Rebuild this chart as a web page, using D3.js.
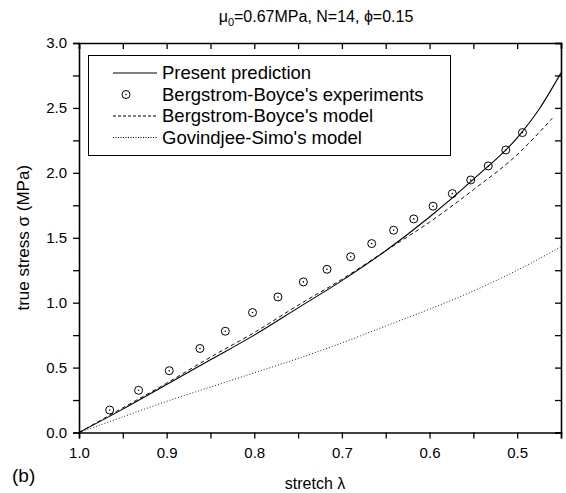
<!DOCTYPE html>
<html>
<head>
<meta charset="utf-8">
<script src="https://cdn.jsdelivr.net/npm/d3@7"></script>
<style>
  html, body { margin: 0; padding: 0; background: #fff; }
  svg { display: block; font-family: "Liberation Sans", Arial, sans-serif; }
</style>
</head>
<body>
<div id="chart"></div>
<script>
// stretch values for the experiments (circles)
const expStretch = [0.965, 0.932, 0.897, 0.862, 0.833, 0.802, 0.773, 0.744, 0.717, 0.690,
    0.666, 0.641, 0.618, 0.596, 0.574, 0.553, 0.533, 0.513, 0.494];
const expStress = [0.173, 0.325, 0.476, 0.647, 0.780, 0.924, 1.044, 1.160, 1.257, 1.354,
    1.455, 1.558, 1.645, 1.743, 1.840, 1.945, 2.053, 2.176, 2.310];

// present prediction (solid)
const predStretch = [1.0, 0.95, 0.9, 0.85, 0.8, 0.75, 0.7, 0.65, 0.6, 0.55, 0.5, 0.475, 0.45];
const predStress = [0, 0.18, 0.37, 0.56, 0.75, 0.96, 1.17, 1.40, 1.66, 1.95, 2.27, 2.49, 2.77];

// Bergstrom-Boyce model (dashed)
const bbStretch = [1.0, 0.95, 0.9, 0.85, 0.8, 0.75, 0.7, 0.65, 0.6, 0.55, 0.5, 0.46];
const bbStress = [0, 0.19, 0.38, 0.58, 0.77, 0.98, 1.18, 1.40, 1.62, 1.87, 2.14, 2.42];

// Govindjee-Simo model (dotted)
const gsStretch = [1.0, 0.95, 0.9, 0.85, 0.8, 0.75, 0.7, 0.65, 0.6, 0.55, 0.5, 0.45];
const gsStress = [0, 0.12, 0.24, 0.35, 0.46, 0.57, 0.69, 0.82, 0.95, 1.09, 1.25, 1.43];

const xTicks = [1.0, 0.9, 0.8, 0.7, 0.6, 0.5];
const xMinor = [0.95, 0.85, 0.75, 0.65, 0.55, 0.45];
const yTicks = [0, 0.5, 1.0, 1.5, 2.0, 2.5, 3.0];
const yMinor = [0.25, 0.75, 1.25, 1.75, 2.25, 2.75];

const legendItems = ["Present prediction", "Bergstrom-Boyce's experiments", "Bergstrom-Boyce's model", "Govindjee-Simo's model"];

(function drawChart() {
    const width = 566, height = 493;
    const margin = { top: 43, right: 5, bottom: 60.5, left: 79 };
    const innerW = width - margin.left - margin.right;
    const innerH = height - margin.top - margin.bottom;

    const svg = d3.select("#chart").append("svg")
        .attr("width", width)
        .attr("height", height);

    const g = svg.append("g").attr("transform", `translate(${margin.left},${margin.top})`);

    const x = d3.scaleLinear().domain([1.0, 0.45]).range([0, innerW]);
    const y = d3.scaleLinear().domain([0, 3.0]).range([innerH, 0]);

    const zip = (a, b) => a.map((v, i) => [v, b[i]]);

    const line = d3.line()
        .x(d => x(d[0]))
        .y(d => y(d[1]))
        .curve(d3.curveMonotoneX);

    // curves
    g.append("path")
        .attr("d", line(zip(gsStretch, gsStress)))
        .attr("fill", "none")
        .attr("stroke", "#222")
        .attr("stroke-width", 1)
        .attr("stroke-dasharray", "1,2");

    g.append("path")
        .attr("d", line(zip(bbStretch, bbStress)))
        .attr("fill", "none")
        .attr("stroke", "#111")
        .attr("stroke-width", 1)
        .attr("stroke-dasharray", "4,3");

    g.append("path")
        .attr("d", line(zip(predStretch, predStress)))
        .attr("fill", "none")
        .attr("stroke", "#000")
        .attr("stroke-width", 1.1);

    // experiment circles
    const pts = g.selectAll("g.pt")
        .data(zip(expStretch, expStress))
        .enter()
        .append("g")
        .attr("class", "pt")
        .attr("transform", d => `translate(${x(d[0])},${y(d[1])})`);
    pts.append("circle").attr("r", 4).attr("fill", "none").attr("stroke", "#000").attr("stroke-width", 1);
    pts.append("circle").attr("r", 0.8).attr("fill", "#000");

    // axes
    const tickLen = 6;
    const fontSize = 15;

    const axBottom = g.append("g").attr("transform", `translate(0,${innerH})`)
        .call(d3.axisBottom(x).tickValues(xTicks.concat(xMinor)).tickSize(tickLen)
            .tickFormat(d => xTicks.includes(d) ? d3.format(".1f")(d) : ""));
    const axTop = g.append("g")
        .call(d3.axisTop(x).tickValues(xTicks.concat(xMinor)).tickSize(-tickLen).tickFormat(""));
    const axLeft = g.append("g")
        .call(d3.axisLeft(y).tickValues(yTicks.concat(yMinor)).tickSize(tickLen)
            .tickFormat(d => yTicks.includes(d) ? d3.format(".1f")(d) : ""));
    const axRight = g.append("g").attr("transform", `translate(${innerW},0)`)
        .call(d3.axisRight(y).tickValues(yTicks.concat(yMinor)).tickSize(-tickLen).tickFormat(""));

    [axBottom, axTop, axLeft, axRight].forEach(a => {
        a.select(".domain").attr("stroke", "#000").attr("stroke-width", 1.6);
        a.selectAll(".tick line").attr("stroke", "#000").attr("stroke-width", 1.3);
        a.selectAll(".tick text").attr("font-size", fontSize).attr("fill", "#000")
            .attr("font-family", "Liberation Sans, Arial, sans-serif");
    });
    axBottom.selectAll(".tick text").attr("y", 25.5).attr("dy", null);
    axLeft.selectAll(".tick text").attr("x", -12);

    // axis titles
    svg.append("text")
        .attr("x", 315)
        .attr("y", 489)
        .attr("text-anchor", "middle")
        .attr("font-size", 16)
        .text("stretch λ");

    svg.append("text")
        .attr("transform", `translate(29,${margin.top + innerH / 2}) rotate(-90)`)
        .attr("text-anchor", "middle")
        .attr("font-size", 17)
        .text("true stress σ (MPa)");

    svg.append("text")
        .attr("x", 12)
        .attr("y", 482)
        .attr("font-size", 19)
        .text("(b)");

    // title
    const title = svg.append("text")
        .attr("x", 316)
        .attr("y", 22)
        .attr("text-anchor", "middle")
        .attr("font-size", 16);
    title.append("tspan").text("μ");
    title.append("tspan").attr("font-size", 11).attr("dy", 4).text("0");
    title.append("tspan").attr("dy", -4).text("=0.67MPa, N=14, ϕ=0.15");

    // legend
    const lg = svg.append("g");
    lg.append("rect")
        .attr("x", 88.5).attr("y", 55.5)
        .attr("width", 362).attr("height", 100)
        .attr("fill", "#fff").attr("stroke", "#000").attr("stroke-width", 1);

    const rowY = [73, 94.5, 116, 137.5];
    const sx0 = 113, sx1 = 157;
    legendItems.forEach((label, i) => {
        const yy = rowY[i];
        if (i === 1) {
            lg.append("circle").attr("cx", 126).attr("cy", yy).attr("r", 4)
                .attr("fill", "none").attr("stroke", "#000");
            lg.append("circle").attr("cx", 126).attr("cy", yy).attr("r", 0.8).attr("fill", "#000");
        } else {
            lg.append("line")
                .attr("x1", sx0).attr("x2", sx1).attr("y1", yy).attr("y2", yy)
                .attr("stroke", "#000").attr("stroke-width", 1)
                .attr("stroke-dasharray", i === 2 ? "3,2" : i === 3 ? "1,1.5" : null);
        }
        lg.append("text")
            .attr("x", 162).attr("y", yy)
            .attr("dy", "0.35em")
            .attr("font-size", 18.5)
            .text(label);
    });
}());
</script>
</body>
</html>
